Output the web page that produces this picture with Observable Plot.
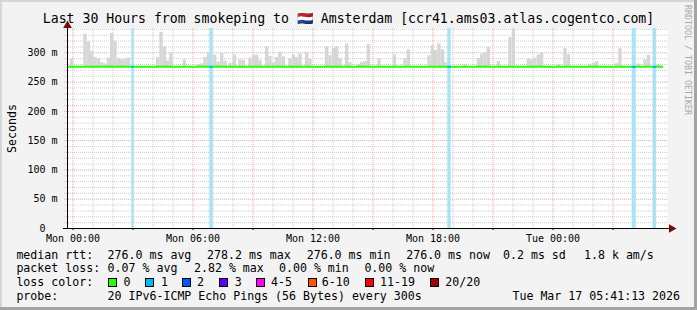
<!DOCTYPE html>
<html><head><meta charset="utf-8">
<script src="https://cdn.jsdelivr.net/npm/d3@7"></script>
<script src="https://cdn.jsdelivr.net/npm/@observablehq/plot@0.6"></script>
<style>
body{margin:0;background:#fff}
#wrap{position:relative;width:697px;height:310px;background:#f3f3f3;box-shadow:inset -3px -3px 0 #a3a3a3, inset 2px 2px 0 #d6d6d6;overflow:hidden;font-family:"DejaVu Sans Mono",monospace;color:#000}
#chart{position:absolute;left:0;top:0}
#chart svg text{white-space:pre}
.t{position:absolute;white-space:pre;font-size:11.6px;line-height:14px}
#title{position:absolute;left:0;top:11px;width:697px;text-align:center;font-size:13.2px;line-height:16px;white-space:pre}
#ylab{position:absolute;left:0;top:28px;width:24px;height:200px;display:flex;align-items:center;justify-content:center}
#ylab span{writing-mode:vertical-rl;transform:rotate(180deg);font-size:11.6px;white-space:pre}
#wm{position:absolute;left:683px;top:5px;writing-mode:vertical-rl;font-size:8.3px;color:#a8a8a8;white-space:pre}
.sw{display:inline-block;position:absolute;width:9px;height:9px;box-sizing:border-box;border:1px solid #000}
</style></head>
<body>
<div id="wrap">
  <div id="chart"></div>
  <div id="title"></div>
  <div id="ylab"><span></span></div>
  <div id="wm"></div>
  <div id="legend"></div>
</div>
<script>
// ---------- data ----------
const titleText = "Last 30 Hours from smokeping to 🇳🇱 Amsterdam [ccr41.ams03.atlas.cogentco.com]";
const yAxisTitle = "Seconds";
const watermark = "RRDTOOL / TOBI OETIKER";
const xTickHours = [0, 6, 12, 18, 24];
const xTickLabels = ["Mon 00:00", "Mon 06:00", "Mon 12:00", "Mon 18:00", "Tue 00:00"];
const yTickValues = [50, 100, 150, 200, 250, 300];
const yTickLabels = ["50 m", "100 m", "150 m", "200 m", "250 m", "300 m"];
const yZeroValue = 0;
const yZeroLabel = "0";
const windowStartHour = -0.275;   // hours since Mon 00:00
const windowEndHour = 29.725;
const seriesEndHour = 29.525;
const yTop = 341.5;               // ms
const medianRtt = 276.0;          // ms
const smokeStepHours = 1 / 6;     // 10-minute consolidated steps
const smokeHour = [-0.125,0.54,0.71,0.875,1.04,1.21,1.375,1.54,1.71,1.875,2.04,2.21,2.375,2.54,2.71,
  4.175,4.34,4.51,4.675,4.84,5.51,6.21,6.375,6.54,6.71,7.03,7.21,7.375,7.54,7.79,7.96,8.01,8.29,8.46,
  8.79,8.96,9.125,9.29,9.625,9.79,9.96,10.125,10.29,10.46,10.79,10.96,11.125,11.29,11.625,11.79,
  12.625,12.79,12.96,13.125,13.29,13.625,13.79,14.21,14.375,14.54,14.71,15.24,16.01,16.54,16.71,
  17.74,17.91,18.075,18.24,18.41,18.575,19.54,20.21,20.375,20.54,20.71,21.21,21.79,21.96,22.71,
  22.875,23.04,23.21,23.375,24.21,24.54,24.71,25.79,25.96,26.125,27.125,27.29,28.21,28.54,28.71,29.21];
const smokeTop = [289,332,319,302,292,290,283,281,291,333,320,290,288,289,291,
  292,335,310,286,299,288,280,281,292,300,296,284,299,286,282,284,296,288,287,
  291,295,296,287,310,294,283,292,301,293,290,296,292,298,301,289,
  310,295,307,310,290,315,283,280,283,285,314,290,296,290,305,
  295,312,304,315,305,283,280,290,297,300,309,285,326,341,289,
  288,291,296,300,280,307,297,280,282,285,282,307,281,288,296,279];
const lossStartHour = [2.94, 6.84, 18.74, 27.96, 29.01];
const lossEndHour = [3.06, 7.01, 18.91, 28.16, 29.18];
const lossPings = [1, 1, 1, 1, 1];
const lossLegendLabels = ["0", "1", "2", "3", "4-5", "6-10", "11-19", "20/20"];
const lossLegendColors = ["#26ff00", "#00b8ff", "#0059ff", "#5e00ff", "#ff00ff", "#ff5500", "#ff0000", "#a00000"];
const rttLabel = "median rtt:";
const rttStats = ["276.0 ms avg", "278.2 ms max", "276.0 ms min", "276.0 ms now", "0.2 ms sd", "1.8 k am/s"];
const lossLabel = "packet loss:";
const lossStats = ["0.07 % avg", "2.82 % max", "0.00 % min", "0.00 % now"];
const lossColorLabel = "loss color:";
const probeLabel = "probe:";
const probeText = "20 IPv6-ICMP Echo Pings (56 Bytes) every 300s";
const stampText = "Tue Mar 17 05:41:13 2026";

// ---------- layout (positions only) ----------
const rowY = [255, 268.3, 282.5, 296];
const rttX = [107.6, 207, 306.7, 406.2, 503, 584];
const lossX = [107.6, 194, 279, 364.4];
const swatchX = [108, 145, 182, 219, 256.4, 307.6, 365.3, 430];
const swatchLabelX = [123.6, 161, 197, 234.7, 271, 321.8, 380, 445.3];

// ---------- build tables ----------
const smoke = smokeHour.map((h, i) => ({start: h, end: h + smokeStepHours, top: smokeTop[i]}));
const loss = lossStartHour.map((h, i) => ({start: h, end: lossEndHour[i], pings: lossPings[i]}));
const hours = d3.range(0, 30);
const minorX = hours.filter(h => h % 3 !== 0);
const majorX = hours.filter(h => h % 3 === 0);
const tens = d3.range(10, yTop, 10);
const minorY = tens.filter(v => v % 50 !== 0);
const majorY = tens.filter(v => v % 50 === 0);
const lossColor = n => lossLegendColors[Math.min(n, 7)];

const chart = Plot.plot({
  width: 697, height: 250,
  marginLeft: 67, marginRight: 30, marginTop: 28, marginBottom: 22,
  style: {background: "transparent", fontFamily: "DejaVu Sans Mono", fontSize: "10px", color: "#000", overflow: "visible"},
  x: {domain: [windowStartHour, windowEndHour]},
  y: {domain: [0, yTop]},
  marks: [
    Plot.frame({fill: "white", stroke: "none"}),
    Plot.ruleY(minorY, {stroke: "#cdcdcd", strokeDasharray: "1,1", insetLeft: -3}),
    Plot.ruleX(minorX, {stroke: "#cdcdcd", strokeDasharray: "1,1"}),
    Plot.ruleY(majorY, {stroke: "#f3a4a4", strokeDasharray: "1,1", insetLeft: -3}),
    Plot.ruleX(majorX, {stroke: "#f3a4a4", strokeDasharray: "1,1"}),
    Plot.rect(smoke, {x1: "start", x2: "end", y1: () => medianRtt, y2: "top", fill: "#d6d6d6"}),
    Plot.rect(loss, {x1: "start", x2: "end", y1: () => 0, y2: () => yTop, fill: "#a8e3f8"}),
    Plot.ruleY([medianRtt], {x1: windowStartHour, x2: seriesEndHour, stroke: lossLegendColors[0], strokeWidth: 2}),
    Plot.ruleY(loss, {x1: "start", x2: "end", y: () => medianRtt, stroke: d => lossColor(d.pings), strokeWidth: 2}),
    Plot.axisY(yTickValues, {tickFormat: d => yTickLabels[yTickValues.indexOf(d)], tickSize: 0, tickPadding: 10, label: null, fontSize: 10}),
    Plot.axisY([yZeroValue], {tickFormat: () => yZeroLabel, tickSize: 0, tickPadding: 22, label: null, fontSize: 10}),
    Plot.axisX(xTickHours, {tickFormat: d => xTickLabels[xTickHours.indexOf(d)], tickSize: 0, tickPadding: 6, label: null, fontSize: 10}),
    Plot.axisX(majorX, {tickFormat: () => "", tickSize: 2, label: null, stroke: "#000"}),
    Plot.ruleY([0], {stroke: "#000", insetLeft: -4, insetRight: -3}),
    Plot.ruleX([windowStartHour], {stroke: "#000", insetTop: -3}),
    Plot.dot([0], {frameAnchor: "bottom-right", symbol: "triangle", r: 3.2, rotate: 90, fill: "#7a0a0a", stroke: "none", dx: 4}),
    Plot.dot([0], {frameAnchor: "top-left", symbol: "triangle", r: 3.2, fill: "#7a0a0a", stroke: "none", dy: -3})
  ]
});
document.getElementById("chart").appendChild(chart);

document.getElementById("title").textContent = titleText;
document.querySelector("#ylab span").textContent = yAxisTitle;
document.getElementById("wm").textContent = watermark;

const legend = document.getElementById("legend");
function put(x, cy, text, align) {
  const d = document.createElement("div");
  d.className = "t";
  d.textContent = text;
  d.style.top = (cy - 7.5) + "px";
  if (align === "right") { d.style.right = (697 - x) + "px"; } else { d.style.left = x + "px"; }
  legend.appendChild(d);
}
put(16.4, rowY[0], rttLabel);
rttStats.forEach((s, i) => put(rttX[i], rowY[0], s));
put(16.4, rowY[1], lossLabel);
lossStats.forEach((s, i) => put(lossX[i], rowY[1], s));
put(16.4, rowY[2], lossColorLabel);
lossLegendLabels.forEach((s, i) => {
  const sw = document.createElement("div");
  sw.className = "sw";
  sw.style.left = swatchX[i] + "px";
  sw.style.top = (rowY[2] - 4.5) + "px";
  sw.style.background = lossLegendColors[i];
  legend.appendChild(sw);
  put(swatchLabelX[i], rowY[2], s);
});
put(16.4, rowY[3], probeLabel);
put(107.6, rowY[3], probeText);
put(680, rowY[3], stampText, "right");
</script>
</body></html>
